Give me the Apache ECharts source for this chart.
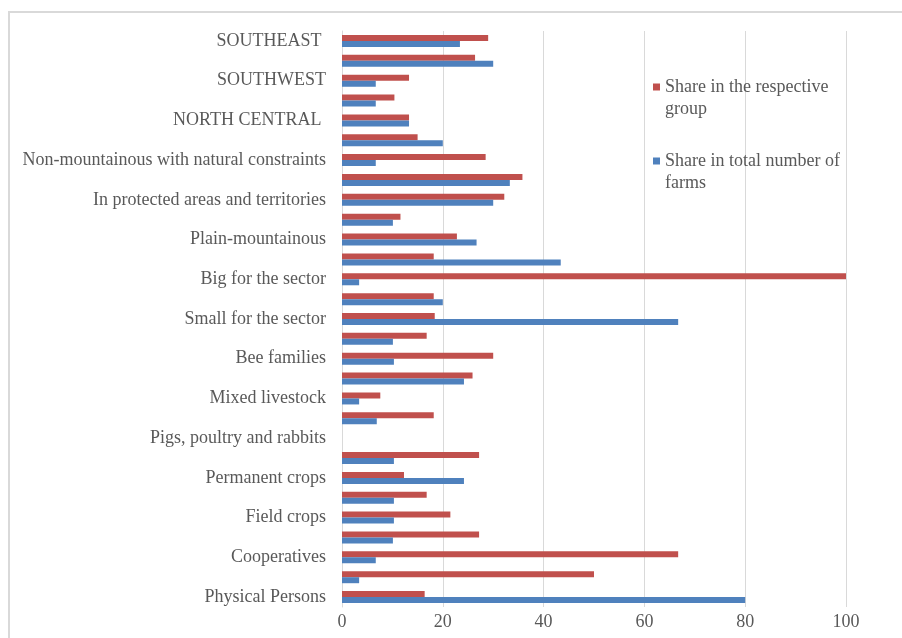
<!DOCTYPE html>
<html>
<head>
<meta charset="utf-8">
<script src="https://cdn.jsdelivr.net/npm/echarts@6/dist/echarts.min.js"></script>
<style>
  html, body { margin: 0; padding: 0; background: #fff; }
  #chart { width: 902px; height: 638px; }
</style>
</head>
<body>
<div id="chart"></div>
<script>
// Farm groups, listed bottom to top along the category axis
const categories = [
  'Physical Persons', 'Sole traders', 'Cooperatives', 'Companies',
  'Field crops', 'Vegetables', 'Permanent crops', 'Grazing livestock',
  'Pigs, poultry and rabbits', 'Mixed crops', 'Mixed livestock', 'Mixed crop-livestock',
  'Bee families', 'Medium-small for the sector', 'Small for the sector', 'Medium for the sector',
  'Big for the sector', 'Plain', 'Plain-mountainous', 'Mountainous',
  'In protected areas and territories', 'Outside protected areas',
  'Non-mountainous with natural constraints', 'NORTHWEST', 'NORTH CENTRAL ',
  'NORTHEAST', 'SOUTHWEST', 'SOUTH CENTRAL', 'SOUTHEAST '
];

// Share in the respective group, %
const shareInGroup = [
  16.4, 50.0, 66.7, 27.2,
  21.5, 16.8, 12.3, 27.2,
  0, 18.2, 7.6, 25.9,
  30.0, 16.8, 18.4, 18.2,
  100, 18.2, 22.8, 11.6,
  32.2, 35.8,
  28.5, 15.0, 13.3,
  10.4, 13.3, 26.4, 29.0
];

// Share in total number of farms, %
const shareInTotal = [
  80.0, 3.4, 6.7, 10.1,
  10.3, 10.3, 24.2, 10.3,
  0, 6.9, 3.4, 24.2,
  10.3, 10.1, 66.7, 20.0,
  3.4, 43.4, 26.7, 10.1,
  30.0, 33.3,
  6.7, 20.0, 13.3,
  6.7, 6.7, 30.0, 23.4
];

const xTicks = [0, 20, 40, 60, 80, 100];

const seriesNames = ['Share in the respective group', 'Share in total number of farms'];

const FONT = '"Liberation Serif", "Times New Roman", serif';
const TEXT = '#595959';

const chart = echarts.init(document.getElementById('chart'), null, { renderer: 'canvas' });

chart.setOption({
  animation: false,
  backgroundColor: '#ffffff',
  textStyle: { fontFamily: FONT },
  graphic: [{
    type: 'rect',
    shape: { x: 9, y: 12, width: 1000, height: 1000 },
    style: { fill: 'none', stroke: '#d9d9d9', lineWidth: 2 },
    silent: true,
    z: -10
  }],
  grid: { left: 342, right: 56, top: 31, bottom: 31, containLabel: false },
  legend: {
    orient: 'vertical',
    left: 648,
    top: 49,
    itemWidth: 7,
    itemHeight: 7,
    itemGap: 8,
    icon: 'rect',
    data: seriesNames,
    formatter: name => '\n' + name,
    textStyle: {
      fontFamily: FONT,
      fontSize: 18,
      color: TEXT,
      lineHeight: 22,
      width: 185,
      overflow: 'break'
    }
  },
  xAxis: {
    type: 'value',
    min: xTicks[0],
    max: xTicks[xTicks.length - 1],
    interval: 20,
    axisLine: { show: false },
    axisTick: { show: false },
    splitLine: { show: true, lineStyle: { color: '#d9d9d9', width: 1 } },
    axisLabel: { fontFamily: FONT, fontSize: 18, color: TEXT, margin: 6 }
  },
  yAxis: {
    type: 'category',
    data: categories,
    axisLine: { show: true, lineStyle: { color: '#d9d9d9', width: 1 } },
    axisTick: { show: false },
    axisLabel: {
      interval: 1,
      fontFamily: FONT,
      fontSize: 18,
      color: TEXT,
      margin: 16
    }
  },
  series: [
    {
      name: seriesNames[0],
      type: 'bar',
      data: shareInGroup,
      barWidth: 6,
      barGap: '0%',
      itemStyle: { color: '#C0504D' }
    },
    {
      name: seriesNames[1],
      type: 'bar',
      data: shareInTotal,
      barWidth: 6,
      barGap: '0%',
      itemStyle: { color: '#4F81BD' }
    }
  ]
});
</script>
</body>
</html>
